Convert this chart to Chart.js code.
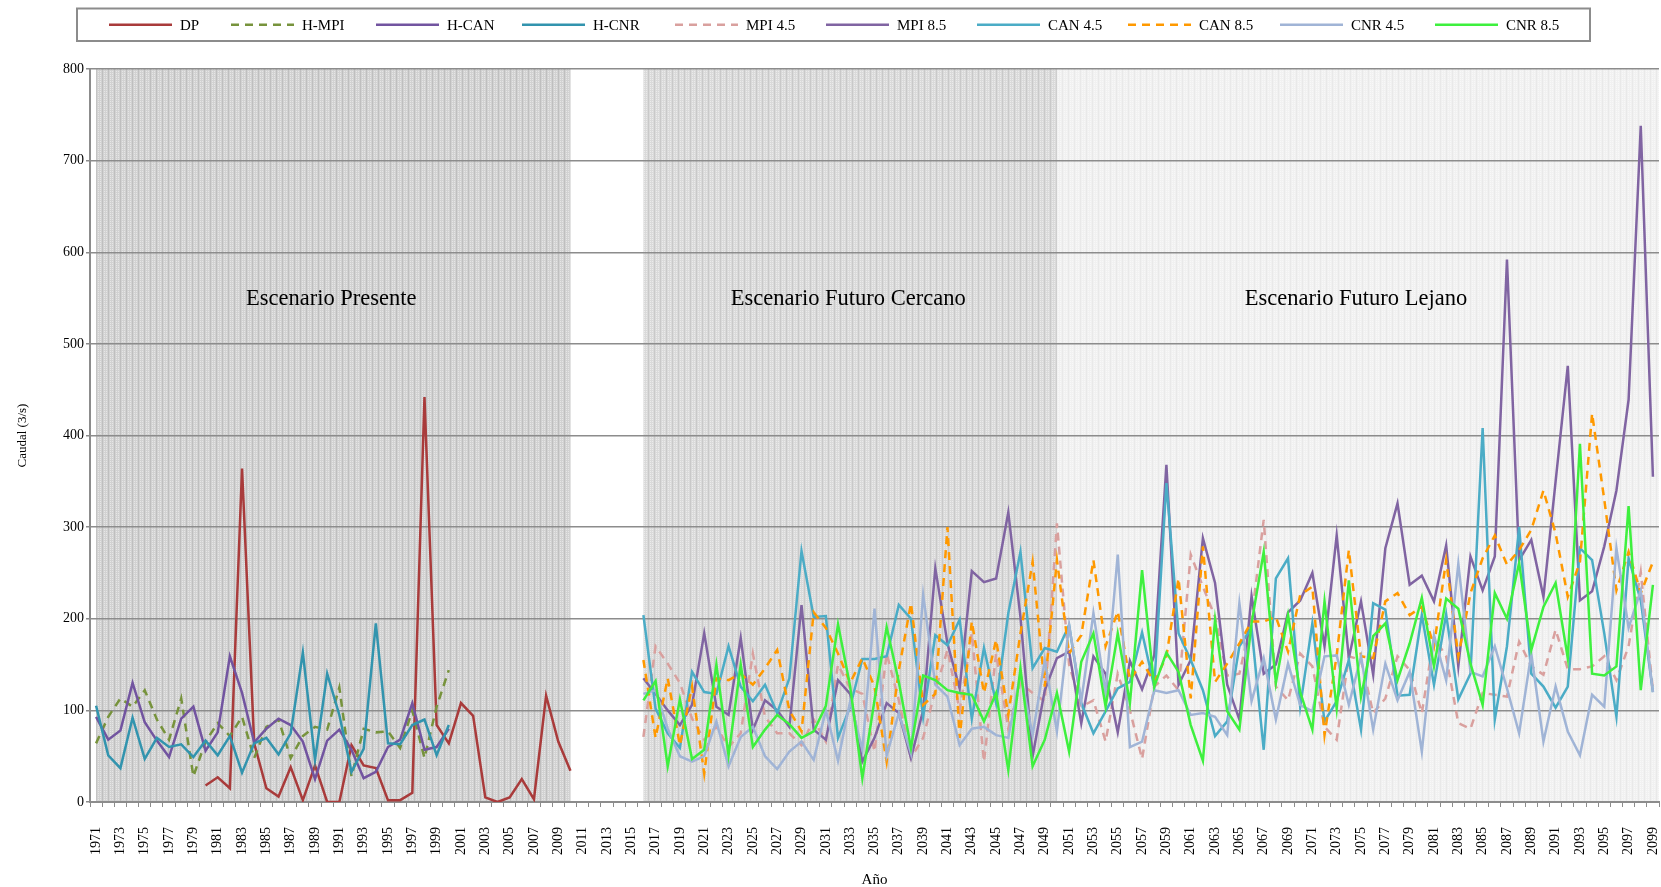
<!DOCTYPE html>
<html>
<head>
<meta charset="utf-8">
<script src="https://cdn.jsdelivr.net/npm/chart.js@4.4.1/dist/chart.umd.min.js"></script>
<style>
  html, body { margin: 0; padding: 0; background: #ffffff; }
  canvas { display: block; }
</style>
</head>
<body>
<canvas id="c" width="1661" height="887"></canvas>
<script>
// ---- categories -------------------------------------------------------
const FIRST_YEAR = 1971;
const LAST_YEAR = 2099;
const years = [];
for (let y = FIRST_YEAR; y <= LAST_YEAR; y++) years.push(String(y));

// ---- observed / historical series --------------------------------------
const dpStart = 1980;
const dp = [18, 27, 15, 364, 64, 15, 6, 38, 2, 40, 0, 0, 62, 40, 37, 2, 2, 10, 442, 84,
            64, 108, 94, 5, 0, 5, 25, 3, 116, 66, 34];

const histStart = 1971;
const hMpi = [64, 93, 113, 104, 122, 90, 68, 113, 28, 66, 86, 72, 93, 48, 82, 90, 48, 72, 82, 79,
              125, 28, 80, 76, 77, 59, 100, 48, 104, 144];
const hCan = [93, 68, 78, 130, 87, 67, 49, 91, 104, 56, 76, 159, 119, 65, 80, 91, 84, 66, 25, 67,
              79, 57, 26, 33, 60, 68, 108, 57, 60, 80];
const hCnr = [105, 51, 37, 92, 47, 70, 60, 63, 49, 67, 51, 72, 32, 64, 70, 52, 75, 163, 46, 140,
              95, 33, 58, 195, 64, 63, 84, 90, 51, 84];

// ---- scenario series (2016-2099) ---------------------------------------
const futStart = 2016;
const mpi45 = [71,170,151,130,91,68,82,60,75,162,93,75,75,
  62,90,66,150,124,118,55,162,111,48,70,122,
  166,100,184,44,162,80,130,119,110,304,150,104,
  111,66,140,100,47,126,138,122,270,235,202,138,140,
  200,308,126,111,162,148,82,68,159,155,97,
  113,159,144,97,180,159,86,80,119,117,115,
  175,148,139,188,145,145,148,159,133,170,251,122];
const mpi85 = [135,118,100,84,106,184,104,95,179,79,111,100,82,
  215,79,68,133,118,44,70,108,97,48,100,255,
  173,124,252,240,244,316,202,50,122,157,164,86,
  159,140,76,154,123,160,368,128,155,288,239,128,90,
  225,140,150,207,220,250,170,291,157,219,139,
  277,326,237,247,219,280,148,268,231,268,592,
  264,286,224,350,476,220,230,279,340,439,738,355];
const can45 = [204,102,75,59,142,120,118,170,126,110,128,97,135,
  274,202,203,70,104,156,156,159,215,200,93,182,
  171,199,91,168,108,206,273,146,168,164,193,108,
  75,99,124,131,185,126,348,184,155,122,72,88,170,
  190,57,244,266,104,195,88,110,155,79,217,
  210,116,117,204,128,205,112,140,408,90,170,
  300,140,126,103,126,277,264,184,93,266,220,120];
const can85 = [155,70,135,62,126,31,135,133,140,128,146,166,100,
  77,207,190,162,130,157,126,44,144,217,106,118,
  300,70,197,119,177,95,184,262,126,264,162,182,
  264,170,208,133,153,131,159,244,113,279,131,151,173,
  197,197,202,164,226,235,73,160,275,159,157,
  219,228,204,213,170,264,159,228,266,291,259,
  275,297,340,293,224,262,424,330,231,273,228,262];
const cnr45 = [118,122,80,50,44,50,88,39,71,82,50,36,55,
  66,46,100,45,110,57,211,51,97,53,226,128,
  115,62,80,82,73,70,140,73,155,77,193,110,
  206,119,270,60,66,122,119,122,95,97,93,73,217,
  110,157,90,151,106,99,159,160,106,159,79,
  151,111,142,55,182,133,260,142,137,170,124,
  75,162,66,126,77,51,117,104,277,190,231,120];
const cnr85 = [111,132,39,112,47,57,150,51,150,60,79,95,85,
  70,77,105,194,126,26,111,191,131,59,138,133,
  122,119,117,88,119,35,146,39,68,119,55,153,
  184,104,184,108,253,126,163,142,84,45,199,99,79,
  195,273,130,204,120,79,219,102,242,115,181,
  195,133,173,223,148,222,211,151,106,228,200,
  261,166,213,239,157,391,140,138,148,323,122,237];

// ---- scenario periods and labels ---------------------------------------
const periods = [
  { name: 'Escenario Presente',       from: '1971', to: '2010', shade: 'present' },
  { name: 'Escenario Futuro Cercano', from: '2016', to: '2050', shade: 'near' },
  { name: 'Escenario Futuro Lejano',  from: '2050', to: null,   shade: 'far' }
];
const periodLabelValue = 549;

// place a series on the full year axis
function onAxis(startYear, values) {
  const out = new Array(years.length).fill(null);
  const off = startYear - FIRST_YEAR;
  values.forEach((v, i) => { out[off + i] = v; });
  return out;
}

const SERIF = "'Liberation Serif', 'Times New Roman', serif";
Chart.defaults.font.family = SERIF;
Chart.defaults.color = '#000000';

const seriesDefs = [
  { label: 'DP',      data: onAxis(dpStart, dp),     color: '#A93B3B', dash: [] },
  { label: 'H-MPI',   data: onAxis(histStart, hMpi), color: '#77933C', dash: [8, 6] },
  { label: 'H-CAN',   data: onAxis(histStart, hCan), color: '#7254A0', dash: [] },
  { label: 'H-CNR',   data: onAxis(histStart, hCnr), color: '#3294AE', dash: [] },
  { label: 'MPI 4.5', data: onAxis(futStart, mpi45), color: '#D9A09E', dash: [8, 6] },
  { label: 'MPI 8.5', data: onAxis(futStart, mpi85), color: '#8064A2', dash: [] },
  { label: 'CAN 4.5', data: onAxis(futStart, can45), color: '#4BACC6', dash: [] },
  { label: 'CAN 8.5', data: onAxis(futStart, can85), color: '#FF9900', dash: [8, 6] },
  { label: 'CNR 4.5', data: onAxis(futStart, cnr45), color: '#A0B4D6', dash: [] },
  { label: 'CNR 8.5', data: onAxis(futStart, cnr85), color: '#3EF03E', dash: [] }
];

const datasets = seriesDefs.map((s, i) => ({
  label: s.label,
  data: s.data,
  borderColor: s.color,
  backgroundColor: s.color,
  borderDash: s.dash,
  borderWidth: 2.5,
  pointRadius: 0,
  tension: 0,
  fill: false,
  spanGaps: false,
  order: seriesDefs.length - i
}));

// ---- textured fills for the scenario periods ---------------------------
// 6x4 tile: flat base, a faint darker stripe and a couple of light dots
function texture(base, line, dot) {
  const t = document.createElement('canvas');
  t.width = 6; t.height = 4;
  const g = t.getContext('2d');
  g.fillStyle = base; g.fillRect(0, 0, 6, 4);
  g.fillStyle = line; g.fillRect(0, 0, 1, 4);
  g.fillStyle = dot;
  g.fillRect(2, 1, 1, 1); g.fillRect(4, 3, 1, 1);
  g.fillRect(4, 1, 1, 1); g.fillRect(2, 3, 1, 1);
  return t;
}
const tiles = {
  present: texture('#d2d2d2', '#bfbfbf', '#e6e6e6'),
  near:    texture('#dadada', '#c9c9c9', '#ebebeb'),
  far:     texture('#f1f1f1', '#e9e9e9', '#f8f8f8')
};

const periodShading = {
  id: 'periodShading',
  beforeDraw(chart) {
    const { ctx, chartArea, scales } = chart;
    const x = scales.x;
    ctx.save();
    periods.forEach(p => {
      const x0 = x.getPixelForValue(years.indexOf(p.from));
      const x1 = p.to ? x.getPixelForValue(years.indexOf(p.to)) : chartArea.right;
      ctx.fillStyle = ctx.createPattern(tiles[p.shade], 'repeat');
      ctx.fillRect(x0, chartArea.top, x1 - x0, chartArea.bottom - chartArea.top);
    });
    ctx.restore();
  },
  beforeDatasetsDraw(chart) {
    const { ctx, chartArea, scales } = chart;
    const x = scales.x, y = scales.y;
    ctx.save();
    ctx.font = '22.5px ' + SERIF;
    ctx.fillStyle = '#000000';
    ctx.textAlign = 'center';
    ctx.textBaseline = 'middle';
    periods.forEach(p => {
      const x0 = x.getPixelForValue(years.indexOf(p.from));
      const x1 = p.to ? x.getPixelForValue(years.indexOf(p.to)) : chartArea.right;
      ctx.fillText(p.name, (x0 + x1) / 2 - 2, y.getPixelForValue(periodLabelValue));
    });
    ctx.restore();
  }
};

// ---- boxed legend across the top ---------------------------------------
const legendBox = { left: 77, top: 8.5, right: 1590, bottom: 41 };
const legendStarts = [109, 231, 376, 522, 675, 826, 977, 1128, 1280, 1435];
const legendSample = 63;
const boxedLegend = {
  id: 'boxedLegend',
  afterDraw(chart) {
    const ctx = chart.ctx;
    ctx.save();
    ctx.strokeStyle = '#8c8c8c';
    ctx.lineWidth = 2;
    ctx.strokeRect(legendBox.left, legendBox.top,
                   legendBox.right - legendBox.left, legendBox.bottom - legendBox.top);
    const cy = (legendBox.top + legendBox.bottom) / 2;
    ctx.font = '15px ' + SERIF;
    ctx.textBaseline = 'middle';
    ctx.textAlign = 'left';
    chart.data.datasets.forEach((ds, i) => {
      const x0 = legendStarts[i];
      ctx.strokeStyle = ds.borderColor;
      ctx.lineWidth = ds.borderWidth;
      ctx.setLineDash(ds.borderDash);
      ctx.beginPath();
      ctx.moveTo(x0, cy);
      ctx.lineTo(x0 + legendSample, cy);
      ctx.stroke();
      ctx.setLineDash([]);
      ctx.fillStyle = '#000000';
      ctx.fillText(ds.label, x0 + legendSample + 8, cy + 1);
    });
    ctx.restore();
  }
};

new Chart(document.getElementById('c'), {
  type: 'line',
  data: { labels: years, datasets },
  plugins: [periodShading, boxedLegend],
  options: {
    responsive: false,
    animation: false,
    events: [],
    layout: { padding: { top: 69, right: 2, left: 0, bottom: 0 } },
    plugins: { legend: { display: false }, tooltip: { enabled: false } },
    scales: {
      x: {
        offset: true,
        grid: { offset: true, drawOnChartArea: false, drawTicks: true, tickLength: 5,
                color: '#8c8c8c', lineWidth: 1 },
        border: { color: '#8c8c8c', width: 2 },
        ticks: {
          autoSkip: false, maxRotation: 90, minRotation: 90, padding: 20,
          font: { size: 14, family: SERIF }, color: '#000000',
          callback: function (val, idx) { return idx % 2 === 0 ? this.getLabelForValue(val) : ''; }
        },
        title: { display: true, text: 'Año', font: { size: 15, family: SERIF, lineHeight: 0.9 },
                 color: '#000000', padding: { top: 0, bottom: 0 } },
        afterFit(scale) {
          scale.height = 85;
          scale.paddingLeft = 0;
          scale.paddingRight = 0;
        }
      },
      y: {
        min: 0, max: 800,
        ticks: { stepSize: 100, padding: 2, font: { size: 14, family: SERIF }, color: '#000000' },
        grid: { color: '#8c8c8c', lineWidth: 1.5, drawTicks: true, tickLength: 4 },
        border: { color: '#8c8c8c', width: 2 },
        title: { display: true, text: 'Caudal (3/s)', font: { size: 13, family: SERIF },
                 color: '#000000', padding: { top: 15, bottom: 0 } },
        afterFit(scale) { scale.width = 90; }
      }
    }
  }
});
</script>
</body>
</html>
